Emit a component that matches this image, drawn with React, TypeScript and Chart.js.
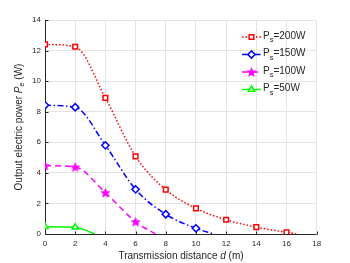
import React, { useEffect, useRef } from "react";
import { Chart, registerables } from "chart.js";

Chart.register(...registerables);

const distances = [0, 2, 4, 6, 8, 10, 12, 14, 16];
const power200 = [12.4, 12.25, 8.9, 5.08, 2.9, 1.68, 0.93, 0.45, 0.11];
const power150 = [8.42, 8.29, 5.8, 2.92, 1.29, 0.37];
const power100 = [4.47, 4.38, 2.7, 0.8];
const power50 = [0.48, 0.44];
const zeroCrossing = [16.7, 11.2, 7.3, 3.3];
const seriesLabels = ["200W", "150W", "100W", "50W"];
const xTicks = [0, 2, 4, 6, 8, 10, 12, 14, 16, 18];
const yTicks = [0, 2, 4, 6, 8, 10, 12, 14];

const FONT = "'Liberation Sans', Arial, sans-serif";

function makeStar(color: string, r: number): HTMLCanvasElement {
  const c = document.createElement("canvas");
  const s = Math.ceil(r * 2 + 2);
  c.width = s;
  c.height = s;
  const ctx = c.getContext("2d")!;
  ctx.fillStyle = color;
  ctx.strokeStyle = color;
  ctx.lineWidth = 1;
  ctx.beginPath();
  for (let i = 0; i < 10; i++) {
    const rad = i % 2 === 0 ? r : r * 0.42;
    const a = -Math.PI / 2 + (i * Math.PI) / 5;
    const x = s / 2 + rad * Math.cos(a);
    const y = s / 2 + 0.5 + rad * Math.sin(a);
    if (i === 0) ctx.moveTo(x, y);
    else ctx.lineTo(x, y);
  }
  ctx.closePath();
  ctx.fill();
  ctx.stroke();
  return c;
}

function buildPoints(vals: number[], end: number) {
  const pts = vals.map((v, i) => ({ x: distances[i], y: v }));
  pts.push({ x: end, y: 0 });
  return pts;
}

function radii(n: number, r: number) {
  const a = new Array(n).fill(r);
  a.push(0);
  return a;
}

export default function App() {
  const ref = useRef<HTMLCanvasElement>(null);
  useEffect(() => {
    const star = makeStar("#ff00ff", 4.5);
    const styles = [
      { color: "#ff0000", dash: [1.5, 2], point: "rect", r: 3.3, fill: "#ffffff" },
      { color: "#0000ff", dash: [6, 2.5, 1.5, 2.5], point: "rectRot", r: 3.6, fill: "#ffffff" },
      { color: "#ff00ff", dash: [6, 4], point: star as any, r: 4.5, fill: "#ff00ff" },
      { color: "#00ff00", dash: [] as number[], point: "triangle", r: 3.6, fill: "#ffffff" },
    ];
    const values = [power200, power150, power100, power50];
    const datasets = values.map((vals, i) => ({
      label: seriesLabels[i],
      data: buildPoints(vals, zeroCrossing[i]),
      borderColor: styles[i].color,
      backgroundColor: styles[i].fill,
      borderWidth: 1.5,
      borderDash: styles[i].dash,
      pointStyle: styles[i].point,
      pointRadius: radii(vals.length, styles[i].r),
      pointBorderWidth: 1.5,
      pointBorderColor: styles[i].color,
      pointBackgroundColor: styles[i].fill,
      cubicInterpolationMode: "monotone" as const,
      fill: false,
    }));

    function drawPointLocal(ctx: CanvasRenderingContext2D, style: any, r: number, x: number, y: number) {
      if (style instanceof HTMLCanvasElement) {
        ctx.drawImage(style, x - style.width / 2, y - style.height / 2);
        return;
      }
      ctx.beginPath();
      if (style === "rect") {
        const s = r * Math.SQRT1_2;
        ctx.rect(x - s, y - s, 2 * s, 2 * s);
      } else if (style === "rectRot") {
        ctx.moveTo(x, y - r);
        ctx.lineTo(x + r, y);
        ctx.lineTo(x, y + r);
        ctx.lineTo(x - r, y);
        ctx.closePath();
      } else if (style === "triangle") {
        const h = r;
        ctx.moveTo(x, y - h);
        ctx.lineTo(x + h * 0.866, y + h * 0.5);
        ctx.lineTo(x - h * 0.866, y + h * 0.5);
        ctx.closePath();
      }
      ctx.fill();
      ctx.stroke();
    }

    const custom = {
      id: "custom",
      beforeDatasetsDraw(chart: any) {
        const ctx = chart.ctx;
        const a = chart.chartArea;
        const xs = chart.scales.x;
        const ys = chart.scales.y;
        ctx.save();
        ctx.strokeStyle = "#262626";
        ctx.lineWidth = 1;
        ctx.beginPath();
        const L = Math.round(a.left) + 0.5;
        const B = Math.round(a.bottom) + 0.5;
        ctx.moveTo(L, a.top);
        ctx.lineTo(L, B);
        ctx.lineTo(a.right, B);
        for (const t of yTicks) {
          const y = Math.round(ys.getPixelForValue(t)) + 0.5;
          ctx.moveTo(L, y);
          ctx.lineTo(L + 3, y);
        }
        for (const t of xTicks) {
          const x = Math.round(xs.getPixelForValue(t)) + 0.5;
          ctx.moveTo(x, B);
          ctx.lineTo(x, B - 3);
        }
        ctx.stroke();
        ctx.restore();
      },
      afterDraw(chart: any) {
        const ctx = chart.ctx;
        const a = chart.chartArea;
        ctx.save();
        ctx.fillStyle = "#262626";
        const fs = 10;
        const xParts = [
          { t: "Transmission distance ", f: `${fs}px ${FONT}` },
          { t: "d", f: `italic ${fs}px ${FONT}` },
          { t: " (m)", f: `${fs}px ${FONT}` },
        ];
        let total = 0;
        for (const p of xParts) {
          ctx.font = p.f;
          total += ctx.measureText(p.t).width;
        }
        let x = 181 - total / 2;
        ctx.textBaseline = "middle";
        ctx.textAlign = "left";
        for (const p of xParts) {
          ctx.font = p.f;
          ctx.fillText(p.t, x, 256);
          x += ctx.measureText(p.t).width;
        }
        ctx.save();
        ctx.translate(19, (a.top + a.bottom) / 2);
        ctx.rotate(-Math.PI / 2);
        const yParts = [
          { t: "Output electric power ", f: `${fs}px ${FONT}`, dy: 0 },
          { t: "P", f: `italic ${fs}px ${FONT}`, dy: 0 },
          { t: "e", f: `italic ${fs * 0.72}px ${FONT}`, dy: 3 },
          { t: " (W)", f: `${fs}px ${FONT}`, dy: 0 },
        ];
        total = 0;
        for (const p of yParts) {
          ctx.font = p.f;
          total += ctx.measureText(p.t).width;
        }
        x = -total / 2;
        for (const p of yParts) {
          ctx.font = p.f;
          ctx.fillText(p.t, x, p.dy);
          x += ctx.measureText(p.t).width;
        }
        ctx.restore();
        const rows = [37, 54.5, 72, 89.5];
        for (let i = 0; i < 4; i++) {
          const st = styles[i];
          const y = rows[i];
          ctx.save();
          ctx.strokeStyle = st.color;
          ctx.lineWidth = 1.5;
          ctx.setLineDash(st.dash);
          ctx.beginPath();
          ctx.moveTo(242, y);
          ctx.lineTo(261, y);
          ctx.stroke();
          ctx.setLineDash([]);
          ctx.fillStyle = st.fill;
          drawPointLocal(ctx, st.point, st.r, 251.5, y);
          ctx.restore();
          ctx.fillStyle = "#262626";
          ctx.textBaseline = "middle";
          ctx.font = `10px ${FONT}`;
          let tx = 263;
          ctx.fillText("P", tx, y - 1);
          tx += ctx.measureText("P").width;
          ctx.font = `7.5px ${FONT}`;
          ctx.fillText("s", tx, y + 3);
          tx += ctx.measureText("s").width;
          ctx.font = `10px ${FONT}`;
          ctx.fillText("=" + seriesLabels[i], tx, y - 1);
        }
        ctx.restore();
      },
    };

    const chart = new Chart(ref.current!, {
      type: "line",
      data: { datasets },
      options: {
        animation: false,
        responsive: false,
        maintainAspectRatio: false,
        layout: { padding: { top: 20, right: 33.3, left: 0, bottom: 0 } },
        plugins: { legend: { display: false }, tooltip: { enabled: false } },
        scales: {
          x: {
            type: "linear",
            min: 0,
            max: 18,
            afterBuildTicks(s: any) {
              s.ticks = xTicks.map((v) => ({ value: v }));
            },
            afterFit(s: any) {
              s.height = 29;
            },
            grid: { color: "#e4e4e4", drawTicks: false, lineWidth: 1 },
            border: { display: false },
            ticks: { padding: 5, color: "#262626", font: { family: FONT, size: 8 }, maxRotation: 0 },
          },
          y: {
            type: "linear",
            min: 0,
            max: 14,
            afterBuildTicks(s: any) {
              s.ticks = yTicks.map((v) => ({ value: v }));
            },
            afterFit(s: any) {
              s.width = 45;
            },
            grid: { color: "#e4e4e4", drawTicks: false, lineWidth: 1 },
            border: { display: false },
            ticks: { padding: 4, color: "#262626", font: { family: FONT, size: 8 } },
          },
        },
      },
      plugins: [custom],
    });
    return () => chart.destroy();
  }, []);

  return (
    <div style={{ position: "fixed", left: 0, top: 0, width: 350, height: 263, background: "#fff" }}>
      <canvas ref={ref} width={350} height={263} style={{ width: 350, height: 263 }} />
    </div>
  );
}
